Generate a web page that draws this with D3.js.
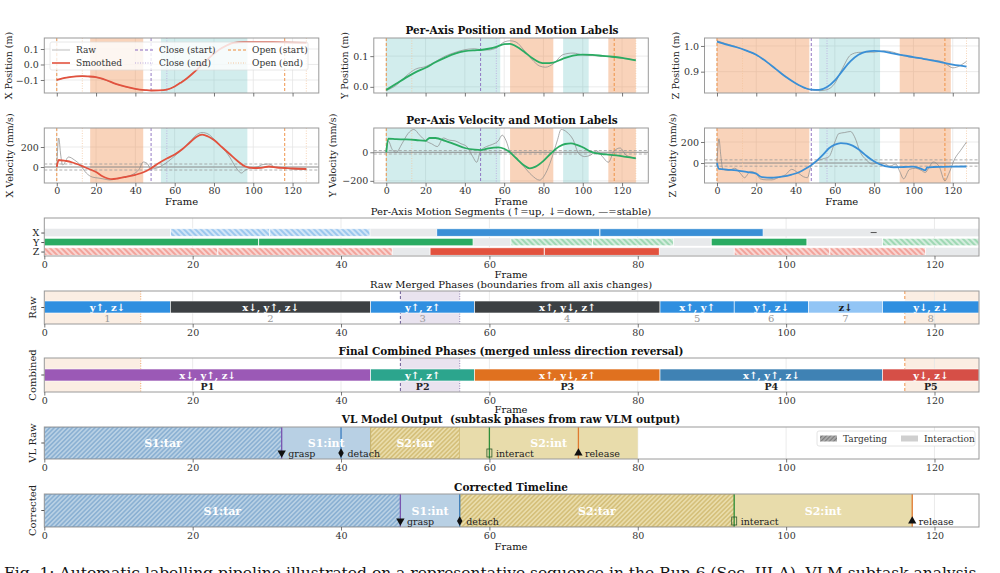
<!DOCTYPE html>
<html><head><meta charset="utf-8">
<script src="https://cdn.jsdelivr.net/npm/d3@7"></script>
<style>
body{margin:0;background:#fff}
svg text{font-family:"DejaVu Serif",serif}
</style>
</head><body>
<svg id="c" width="1000" height="573"></svg>
<script>
// ================= DATA =================
const frameTicks = [0,20,40,60,80,100,120];

// Position (m)
const xPosF   = [0,5,10,13,16,20,25,30,35,40,45,48,52,56,60,63,66,69,72,75,78,81,84,87,90,95,100,110,120,127];
const xPosS   = [-0.099,-0.085,-0.077,-0.075,-0.077,-0.082,-0.100,-0.125,-0.143,-0.157,-0.165,-0.168,-0.167,-0.162,-0.142,-0.118,-0.092,-0.060,-0.025,0.012,0.048,0.080,0.106,0.126,0.140,0.145,0.145,0.144,0.141,0.139];
const xPosR   = [-0.101,-0.084,-0.076,-0.074,-0.078,-0.083,-0.101,-0.126,-0.144,-0.158,-0.166,-0.169,-0.168,-0.163,-0.141,-0.116,-0.090,-0.058,-0.023,0.014,0.050,0.082,0.108,0.128,0.141,0.146,0.146,0.144,0.140,0.138];

const yPosF   = [0,5,10,15,20,25,30,35,40,45,48,52,56,60,63,66,70,74,78,81,85,90,95,100,105,110,115,120,127];
const yPosS   = [-0.010,0.010,0.030,0.048,0.062,0.080,0.095,0.108,0.116,0.119,0.120,0.124,0.130,0.139,0.140,0.132,0.115,0.095,0.080,0.077,0.079,0.092,0.102,0.105,0.104,0.101,0.098,0.094,0.086];
const yPosR   = [-0.012,0.005,0.035,0.058,0.066,0.082,0.100,0.112,0.121,0.124,0.121,0.120,0.127,0.146,0.150,0.146,0.120,0.090,0.068,0.064,0.075,0.105,0.110,0.104,0.102,0.100,0.097,0.093,0.088];

const zPosF   = [0,5,10,15,20,25,30,35,40,45,48,52,56,60,64,68,72,76,80,85,90,95,100,105,110,115,120,127];
const zPosS   = [1.017,1.005,0.995,0.982,0.966,0.940,0.910,0.880,0.855,0.836,0.830,0.829,0.840,0.866,0.905,0.941,0.966,0.978,0.981,0.978,0.970,0.963,0.957,0.950,0.943,0.935,0.927,0.920];
const zPosR   = [1.020,1.008,0.996,0.981,0.965,0.939,0.909,0.879,0.855,0.835,0.829,0.826,0.830,0.855,0.915,0.965,0.975,0.976,0.976,0.981,0.975,0.962,0.955,0.950,0.945,0.938,0.915,0.940];

// Velocity (mm/s)
const xVelF   = [0,1,3,5,8,11,14,17,20,23,26,28,31,35,40,45,48,52,56,60,64,68,71,74,77,80,84,88,92,96,100,104,108,112,116,120,127];
const xVelS   = [0,70,65,60,45,25,0,-25,-50,-90,-115,-122,-115,-100,-78,-45,-12,40,85,125,180,250,300,323,305,270,200,130,60,5,-10,-8,5,-5,-10,-15,-20];
const xVelRF  = [0,1,2,3,6,9,12,15,18,21,24,27,30,34,38,42,44,46,48,51,54,57,60,64,68,71,74,77,80,84,88,91,94,96,99,102,105,108,111,115,120,127];
const xVelR   = [0,290,120,20,100,70,20,-60,-100,-110,-120,-130,-120,-100,-80,-20,50,35,-20,-10,20,60,110,180,260,320,345,330,280,200,100,0,-60,-30,-10,0,25,30,0,-10,-20,-25];

const yVelF   = [0,1,5,10,15,20,22,25,30,35,40,45,48,52,57,60,63,66,70,73,76,80,84,88,91,94,97,100,104,108,112,117,121,127];
const yVelS   = [0,95,92,90,86,80,100,100,80,55,30,18,15,28,35,25,0,-40,-90,-112,-100,-60,-5,40,58,62,52,35,5,-10,-15,-22,-30,-42];
const yVelRF  = [0,1,3,5,8,11,14,17,20,23,26,29,32,35,38,41,44,46,48,51,54,57,59,61,63,66,70,74,78,81,84,87,89,92,95,98,101,104,107,110,113,116,119,122,127];
const yVelR   = [0,80,20,0,60,130,160,120,80,60,40,100,85,80,60,40,-30,-70,10,40,55,80,120,80,0,-40,-100,-160,-195,-150,-50,80,160,140,90,-10,-30,-20,10,-30,-70,10,30,-20,-40];

const zVelF   = [0,1,5,10,15,20,21,23,28,33,38,42,45,48,51,54,57,60,63,66,69,72,75,78,81,84,87,90,95,100,104,106,107,110,115,120,127];
const zVelS   = [0,-55,-62,-70,-85,-100,-115,-135,-140,-130,-110,-85,-55,-20,25,80,140,175,190,185,165,130,85,40,5,-20,-35,-40,-38,-35,-55,-70,-42,-38,-36,-34,-33];
const zVelRF  = [0,1,2,3,6,9,12,14,17,20,22,25,28,31,35,38,41,44,46,48,51,54,57,60,62,65,68,70,73,76,79,82,85,88,91,93,95,98,101,104,106,108,110,113,116,118,121,124,127];
const zVelR   = [0,230,60,-60,-70,-50,-100,-140,-80,-100,-150,-160,-160,-140,-110,-60,-90,-130,-140,-20,20,40,60,200,280,290,300,250,100,30,-10,0,-5,-30,-10,-80,-150,-60,-50,-70,-90,-40,10,-30,-170,-100,40,120,200];

// Motion spans [start, end, direction]
const xSpans = [[17,44,'down'],[53,97,'up']];
const ySpans = [[0,58,'up'],[63,85,'down'],[90,103,'up'],[113,127,'down']];
const zSpans = [[0,47,'down'],[52,83,'up'],[93,119,'down']];

// Gripper events (frames)
const closeStart = [48], closeEnd = [56];
const openStart = [0,116], openEnd = [13,127];

// Per-axis motion segments [start,end,dir]
const segX = [[17,30.4,'down'],[30.4,43.9,'down'],[52.9,74.9,'up'],[74.9,96.9,'up']];
const segY = [[0,28.9,'up'],[28.9,57.8,'up'],[62.9,73.9,'down'],[73.9,84.8,'down'],[89.9,102.8,'up'],[113,126,'down']];
const segZ = [[0,23.4,'down'],[23.4,46.9,'down'],[52,67.4,'up'],[67.4,82.9,'up'],[93,105.9,'down'],[105.9,118.8,'down']];
const segXDash = [111.8];

// Raw merged phases
const rawStart  = [0,17,44,58,83,93,103,113];
const rawEnd    = [17,44,58,83,93,103,113,126];
const rawLabels = ['y↑, z↓','x↓, y↑, z↓','y↑, z↑','x↑, y↓, z↑','x↑, y↑','y↑, z↓','z↓','y↓, z↓'];
const rawKinds  = ['b','d','b','d','b','b','l','b'];

// Final combined phases
const combStart  = [0,44,58,83,113];
const combEnd    = [44,58,83,113,126];
const combLabels = ['x↓, y↑, z↓','y↑, z↑','x↑, y↓, z↑','x↑, y↑, z↓','y↓, z↓'];
const combNames  = ['P1','P2','P3','P4','P5'];

// VL model output & corrected timeline
const vlStart = [0,32,44,56],  vlEnd = [32,44,56,80],  vlNames = ['S1:tar','S1:int','S2:tar','S2:int'];
const vlEvF = [32,40,60,72], vlEvN = ['grasp','detach','interact','release'];
const coStart = [0,48,56,93], coEnd = [48,56,93,117], coNames = ['S1:tar','S1:int','S2:tar','S2:int'];
const coEvF = [48,56,93,117], coEvN = ['grasp','detach','interact','release'];

// ================= DRAWING =================
const svg = d3.select('#c');
svg.append('rect').attr('width',1000).attr('height',573).attr('fill','#fff');
const defs = svg.append('defs');
function hatch(id,bg,fg,angle,sp,sw){
  const p = defs.append('pattern').attr('id',id).attr('patternUnits','userSpaceOnUse')
    .attr('width',sp).attr('height',sp).attr('patternTransform',`rotate(${angle})`);
  p.append('rect').attr('width',sp).attr('height',sp).attr('fill',bg);
  p.append('line').attr('x1',sp/2).attr('y1',0).attr('x2',sp/2).attr('y2',sp).attr('stroke',fg).attr('stroke-width',sw);
}
hatch('hxd','#9cc7ee','#ffffff',-45,4,1.1);
hatch('hyd','#9fd8b4','#ffffff',-45,4,1.1);
hatch('hzd','#f2a39b','#ffffff',-45,4,1.1);
hatch('hb','#b8d0e4','#5f92c2',45,3.2,0.8);
hatch('hg','#e9dcaa','#c2a54c',45,3.2,0.8);
hatch('hl','#a8a8a8','#6e6e6e',45,3,0.8);

const C = {red:'#e2523e',green:'#2aab62',blue:'#3a8fd6',purple:'#8a6bbf',purpleL:'#b9a6dc',orange:'#ee8b3a',orangeL:'#f4c49c',grid:'#e6e6e6',frame:'#9a9a9a'};
const spanCol = {down:['#f0965a',0.42],up:['#5fbfbf',0.28]};
let clipN = 0;

function panel(x0,x1,y0,y1,xd,yd){
  const x = d3.scaleLinear().domain(xd).range([x0,x1]);
  const y = d3.scaleLinear().domain(yd).range([y1,y0]);
  const id = 'cl'+(clipN++);
  defs.append('clipPath').attr('id',id).append('rect').attr('x',x0).attr('y',y0).attr('width',x1-x0).attr('height',y1-y0);
  const g = svg.append('g');
  const inner = g.append('g').attr('clip-path',`url(#${id})`);
  return {x,y,g,inner,x0,x1,y0,y1};
}
function border(p){
  p.g.append('rect').attr('x',p.x0).attr('y',p.y0).attr('width',p.x1-p.x0).attr('height',p.y1-p.y0)
    .attr('fill','none').attr('stroke',C.frame).attr('stroke-width',1);
}
function xAxis(p,labels,pad){
  const ax = d3.axisBottom(p.x).tickValues(frameTicks).tickSize(3.5).tickPadding(pad===undefined?2:pad);
  if(!labels) ax.tickFormat('');
  const a = p.g.append('g').attr('transform',`translate(0,${p.y1})`).call(ax);
  a.select('.domain').remove();
  a.selectAll('line').attr('stroke','#555').attr('stroke-width',0.8);
  a.selectAll('text').attr('font-size','9.5px').attr('fill','#333').attr('font-family','DejaVu Serif');
}
function yAxis(p,ticks,fmt){
  const a = p.g.append('g').attr('transform',`translate(${p.x0},0)`)
    .call(d3.axisLeft(p.y).tickValues(ticks).tickSize(3.5).tickPadding(2).tickFormat(fmt));
  a.select('.domain').remove();
  a.selectAll('line').attr('stroke','#555').attr('stroke-width',0.8);
  a.selectAll('text').attr('font-size','9.5px').attr('fill','#333').attr('font-family','DejaVu Serif');
}
function gridX(p,vals){
  p.inner.selectAll(null).data(vals).enter().append('line')
    .attr('x1',d=>p.x(d)).attr('x2',d=>p.x(d)).attr('y1',p.y0).attr('y2',p.y1)
    .attr('stroke',C.grid).attr('stroke-width',0.8);
}
function gridY(p,vals){
  p.inner.selectAll(null).data(vals).enter().append('line')
    .attr('y1',d=>p.y(d)).attr('y2',d=>p.y(d)).attr('x1',p.x0).attr('x2',p.x1)
    .attr('stroke',C.grid).attr('stroke-width',0.8);
}
function vline(p,f,col,dash,w,op){
  p.inner.append('line').attr('x1',p.x(f)).attr('x2',p.x(f)).attr('y1',p.y0).attr('y2',p.y1)
    .attr('stroke',col).attr('stroke-width',w).attr('stroke-dasharray',dash).attr('opacity',op);
}
function ylabel(x,y,txt,size){
  svg.append('text').attr('transform',`translate(${x},${y}) rotate(-90)`).attr('text-anchor','middle')
    .attr('font-size',(size||9.5)+'px').attr('fill','#222').text(txt);
}
function ctext(x,y,txt,size,weight,col){
  return svg.append('text').attr('x',x).attr('y',y).attr('text-anchor','middle')
    .attr('font-size',size+'px').attr('font-weight',weight||'normal').attr('fill',col||'#111').text(txt);
}
const fmtNum = d3.format('.1f');
const minus = s => String(s).replace('-','−');

// ---- top rows ----
const cols = [[44.3,318.8],[373.8,648.3],[704.5,979]];
const fdom = [-6.35,133.35];
const gridFrames = [0,20,40,60,80,100,120];
const topRows = [
  {y0:38,y1:93,rows:[
    {F:xPosF,S:xPosS,RF:xPosF,R:xPosR,col:C.red,dom:[-0.184,0.171],ticks:[-0.1,0,0.1],spans:xSpans,lab:'X Position (m)',off:32,fmt:d=>minus(fmtNum(d))},
    {F:yPosF,S:yPosS,RF:yPosF,R:yPosR,col:C.green,dom:[-0.02,0.159],ticks:[0,0.1],spans:ySpans,lab:'Y Position (m)',off:26,fmt:d=>minus(fmtNum(d))},
    {F:zPosF,S:zPosS,RF:zPosF,R:zPosR,col:C.blue,dom:[0.817,1.031],ticks:[0.9,1.0],spans:zSpans,lab:'Z Position (m)',off:26,fmt:d=>minus(fmtNum(d))}]},
  {y0:128,y1:183,vel:true,rows:[
    {F:xVelF,S:xVelS,RF:xVelRF,R:xVelR,col:C.red,dom:[-160,390],ticks:[0,200],th:30,spans:xSpans,lab:'X Velocity (mm/s)',off:31,fmt:d=>minus(d)},
    {F:yVelF,S:yVelS,RF:yVelRF,R:yVelR,col:C.green,dom:[-215,170],ticks:[-200,0],th:12,spans:ySpans,lab:'Y Velocity (mm/s)',off:38,fmt:d=>minus(d)},
    {F:zVelF,S:zVelS,RF:zVelRF,R:zVelR,col:C.blue,dom:[-190,333],ticks:[0,200],th:30,spans:zSpans,lab:'Z Velocity (mm/s)',off:29,fmt:d=>minus(d)}]}
];
topRows.forEach((row,ri)=>{
  row.rows.forEach((s,ci)=>{
    const p = panel(cols[ci][0],cols[ci][1],row.y0,row.y1,fdom,s.dom);
    gridX(p,gridFrames); gridY(p,s.ticks);
    s.spans.forEach(sp=>{
      p.inner.append('rect').attr('x',p.x(sp[0])).attr('width',p.x(sp[1])-p.x(sp[0]))
        .attr('y',p.y0).attr('height',p.y1-p.y0).attr('fill',spanCol[sp[2]][0]).attr('opacity',spanCol[sp[2]][1]);
    });
    if(row.vel){
      [s.th,-s.th].forEach(t=>p.inner.append('line').attr('x1',p.x0).attr('x2',p.x1).attr('y1',p.y(t)).attr('y2',p.y(t))
        .attr('stroke','#999').attr('stroke-width',0.8).attr('stroke-dasharray','3,2'));
      p.inner.append('line').attr('x1',p.x0).attr('x2',p.x1).attr('y1',p.y(0)).attr('y2',p.y(0)).attr('stroke','#888').attr('stroke-width',0.9);
    }
    openStart.forEach(f=>vline(p,f,C.orange,'3,2',1,0.9));
    openEnd.forEach(f=>vline(p,f,C.orangeL,'1,1.5',0.9,0.8));
    closeStart.forEach(f=>vline(p,f,C.purple,'3,2',1,0.9));
    closeEnd.forEach(f=>vline(p,f,C.purpleL,'1,1.5',0.9,0.9));
    const lineR = d3.line().x((d,i)=>p.x(s.RF[i])).y(d=>p.y(d)).curve(d3.curveMonotoneX);
    const lineS = d3.line().x((d,i)=>p.x(s.F[i])).y(d=>p.y(d)).curve(d3.curveMonotoneX);
    p.inner.append('path').attr('d',lineR(s.R)).attr('fill','none').attr('stroke','#8c8c8c').attr('stroke-width',0.9).attr('opacity',0.8);
    p.inner.append('path').attr('d',lineS(s.S)).attr('fill','none').attr('stroke',s.col).attr('stroke-width',1.8);
    border(p); xAxis(p,row.vel,1); yAxis(p,s.ticks,s.fmt);
    ylabel(cols[ci][0]-s.off,(row.y0+row.y1)/2,s.lab);
    if(row.vel) ctext((cols[ci][0]+cols[ci][1])/2,205,'Frame',10);
  });
});
ctext(512,34,'Per-Axis Position and Motion Labels',10.5,'bold');
ctext(512,124,'Per-Axis Velocity and Motion Labels',10.5,'bold');

// legend in X position panel
{
  const lg = svg.append('g');
  lg.append('rect').attr('x',50).attr('y',42).attr('width',258).attr('height',28).attr('rx',2)
    .attr('fill','#fff').attr('opacity',0.8).attr('stroke','#ddd').attr('stroke-width',0.8);
  const items = [
    [52,50,'Raw','#c8c8c8','none',1.2],[52,63,'Smoothed',C.red,'none',1.6],
    [135,50,'Close (start)',C.purple,'3,2',1.2],[135,63,'Close (end)',C.purpleL,'1,1.5',1],
    [228,50,'Open (start)',C.orange,'3,2',1.2],[228,63,'Open (end)',C.orangeL,'1,1.5',1]];
  items.forEach(it=>{
    lg.append('line').attr('x1',it[0]).attr('x2',it[0]+18).attr('y1',it[1]).attr('y2',it[1])
      .attr('stroke',it[3]).attr('stroke-dasharray',it[4]).attr('stroke-width',it[5]);
    lg.append('text').attr('x',it[0]+24).attr('y',it[1]+3.3).attr('font-size','9px').attr('fill','#333').text(it[2]);
  });
}

// ---- bottom panels ----
const BX = [44.3,979], BD = [0,126];

// Segments panel
{
  const p = panel(BX[0],BX[1],218,256,BD,[-0.47,3.53]);
  gridX(p,gridFrames);
  const rows = [[segX,2,C.blue,'hxd'],[segY,1,C.green,'hyd'],[segZ,0,C.red,'hzd']];
  const bh = p.y(0)-p.y(0.8);
  rows.forEach(r=>{
    const yc = p.y(r[1]);
    p.inner.append('rect').attr('x',p.x(0)).attr('width',p.x(126)-p.x(0)).attr('y',yc-bh/2).attr('height',bh).attr('fill','#e7e9eb');
    p.inner.selectAll(null).data(r[0]).enter().append('rect')
      .attr('x',d=>p.x(d[0])).attr('width',d=>p.x(d[1])-p.x(d[0])).attr('y',yc-bh/2).attr('height',bh)
      .attr('fill',d=>d[2]==='up'?r[2]:`url(#${r[3]})`).attr('stroke','#fff').attr('stroke-width',0.8);
  });
  segXDash.forEach(f=>p.inner.append('line').attr('x1',p.x(f)-3).attr('x2',p.x(f)+3).attr('y1',p.y(2)).attr('y2',p.y(2)).attr('stroke','#555').attr('stroke-width',1));
  border(p); xAxis(p,true);
  const ya = p.g.append('g').attr('transform',`translate(${p.x0},0)`).call(d3.axisLeft(p.y).tickValues([2,1,0]).tickSize(3).tickPadding(2).tickFormat((d,i)=>['X','Y','Z'][i]));
  ya.select('.domain').remove(); ya.selectAll('line').attr('stroke','#555');
  ya.selectAll('text').attr('font-size','9.5px').attr('fill','#222').attr('font-family','DejaVu Serif');
  ctext(511,215,'Per-Axis Motion Segments (↑=up, ↓=down, —=stable)',10);
  ctext(511,278,'Frame',10);
}

function phaseBg(p){
  const bg = [[0,13,'#fbeee3'],[48,56,'#e9e3ef'],[116,126,'#fbeee3']];
  bg.forEach(b=>p.inner.append('rect').attr('x',p.x(b[0])).attr('width',p.x(b[1])-p.x(b[0])).attr('y',p.y0).attr('height',p.y1-p.y0).attr('fill',b[2]));
  gridX(p,gridFrames);
  vline(p,13,C.orange,'1,1.5',0.9,0.8);
  vline(p,116,C.orange,'3,2',1,0.9);
  vline(p,48,'#5b4a8a','3,2',1,0.9);
  vline(p,56,'#8a7ab0','1,1.5',1,0.9);
}
function singleYTick(p,label){
  p.g.append('line').attr('x1',p.x0-3).attr('x2',p.x0).attr('y1',(p.y0+p.y1)/2).attr('y2',(p.y0+p.y1)/2).attr('stroke','#555');
  ylabel(p.x0-8,(p.y0+p.y1)/2,label,10);
}

// Raw merged phases
{
  const p = panel(BX[0],BX[1],291,324,BD,[0,1]);
  phaseBg(p);
  const col = {b:'#2f8fe0',d:'#3c4043',l:'#92c5f5'};
  const yc = 307, bh = 12;
  rawStart.forEach((s,i)=>{
    p.inner.append('rect').attr('x',p.x(s)).attr('width',p.x(rawEnd[i])-p.x(s)).attr('y',yc-bh/2).attr('height',bh)
      .attr('fill',col[rawKinds[i]]).attr('stroke','#fff').attr('stroke-width',0.6);
    const cx = (p.x(s)+p.x(rawEnd[i]))/2;
    ctext(cx,yc+3.8,rawLabels[i],10,'bold',rawKinds[i]==='l'?'#1a1a1a':'#fff');
    ctext(cx,322,String(i+1),10,'normal','#999');
  });
  border(p); xAxis(p,true); singleYTick(p,'Raw');
  ctext(511,288,'Raw Merged Phases (boundaries from all axis changes)',10);
}

// Final combined phases
{
  const p = panel(BX[0],BX[1],358,392,BD,[0,1]);
  phaseBg(p);
  const cc = ['#9b59b6','#2ca58d','#e0711f','#3f82b4','#d64f47'];
  const yc = 375, bh = 12;
  combStart.forEach((s,i)=>{
    p.inner.append('rect').attr('x',p.x(s)).attr('width',p.x(combEnd[i])-p.x(s)).attr('y',yc-bh/2).attr('height',bh)
      .attr('fill',cc[i]).attr('stroke','#fff').attr('stroke-width',0.6);
    const cx = (p.x(s)+p.x(combEnd[i]))/2;
    ctext(cx,yc+3.8,combLabels[i],10,'bold','#fff');
    ctext(cx,390,combNames[i],9.5,'bold','#222');
  });
  border(p); xAxis(p,true); singleYTick(p,'Combined');
  ctext(511,355,'Final Combined Phases (merged unless direction reversal)',10.5,'bold');
  ctext(511,413,'Frame',10);
}

// timeline panels
const evStyle = {grasp:['#7a55b0','down'],detach:['#3a7dc0','diamond'],interact:['#2f8f3a','rect'],release:['#e07a30','up']};
function timeline(y0,y1,st,en,names,evF,evN,label){
  const p = panel(BX[0],BX[1],y0,y1,BD,[0,1]);
  gridX(p,gridFrames);
  st.forEach((s,i)=>{
    const tar = names[i].endsWith('tar'), s1 = names[i].startsWith('S1');
    const fill = tar ? (s1?'url(#hb)':'url(#hg)') : (s1?'#b8d0e4':'#e8dcab');
    p.inner.append('rect').attr('x',p.x(s)).attr('width',p.x(en[i])-p.x(s)).attr('y',p.y0).attr('height',p.y1-p.y0)
      .attr('fill',fill).attr('stroke',tar?(s1?'#5f92c2':'#c2a54c'):'none').attr('stroke-width',0.8);
    ctext((p.x(s)+p.x(en[i]))/2,(y0+y1)/2+4,names[i],11,'bold','#fff');
  });
  evF.forEach((f,i)=>{
    const stl = evStyle[evN[i]], X = p.x(f), Y = y1-6;
    p.inner.append('line').attr('x1',X).attr('x2',X).attr('y1',y0).attr('y2',y1).attr('stroke',stl[0]).attr('stroke-width',1.3);
    if(stl[1]==='rect'){
      svg.append('rect').attr('x',X-2.5).attr('y',Y-4).attr('width',5).attr('height',8).attr('fill','none').attr('stroke','#2b5a2b').attr('stroke-width',0.8);
    } else if(stl[1]==='diamond'){
      svg.append('path').attr('transform',`translate(${X},${Y})`).attr('d',d3.symbol().type(d3.symbolDiamond).size(26)()).attr('fill','#111');
    } else {
      svg.append('path').attr('transform',`translate(${X},${Y}) rotate(${stl[1]==='down'?180:0})`).attr('d',d3.symbol().type(d3.symbolTriangle).size(30)()).attr('fill','#111');
    }
    svg.append('text').attr('x',X+6.5).attr('y',Y+3.5).attr('font-size','9.5px').attr('fill','#222').text(evN[i]);
  });
  border(p); xAxis(p,true); singleYTick(p,label);
  return p;
}
timeline(427,459,vlStart,vlEnd,vlNames,vlEvF,vlEvN,'VL Raw');
ctext(511,423,'VL Model Output\u00A0\u00A0(subtask phases from raw VLM output)',10.5,'bold');
{
  const lg = svg.append('g');
  lg.append('rect').attr('x',817).attr('y',431).attr('width',158).attr('height',15).attr('rx',2).attr('fill','#fff').attr('stroke','#ddd').attr('stroke-width',0.8);
  lg.append('rect').attr('x',820).attr('y',435.5).attr('width',17).attr('height',6).attr('fill','url(#hl)');
  lg.append('text').attr('x',843).attr('y',441.5).attr('font-size','9px').attr('fill','#333').text('Targeting');
  lg.append('rect').attr('x',901).attr('y',435.5).attr('width',17).attr('height',6).attr('fill','#cfcfcf');
  lg.append('text').attr('x',924).attr('y',441.5).attr('font-size','9px').attr('fill','#333').text('Interaction');
}
timeline(494,527,coStart,coEnd,coNames,coEvF,coEvN,'Corrected');
ctext(511,491,'Corrected Timeline',10.5,'bold');
ctext(511,550,'Frame',10);

// caption (cut off at bottom edge, as in the reference)
svg.append('text').attr('x',4).attr('y',578).attr('font-family','Liberation Serif').attr('font-size','15.5px').attr('fill','#111')
  .text('Fig. 1: Automatic labelling pipeline illustrated on a representative sequence in the Run 6 (Sec. III-A). VLM subtask analysis');
</script>
</body></html>
